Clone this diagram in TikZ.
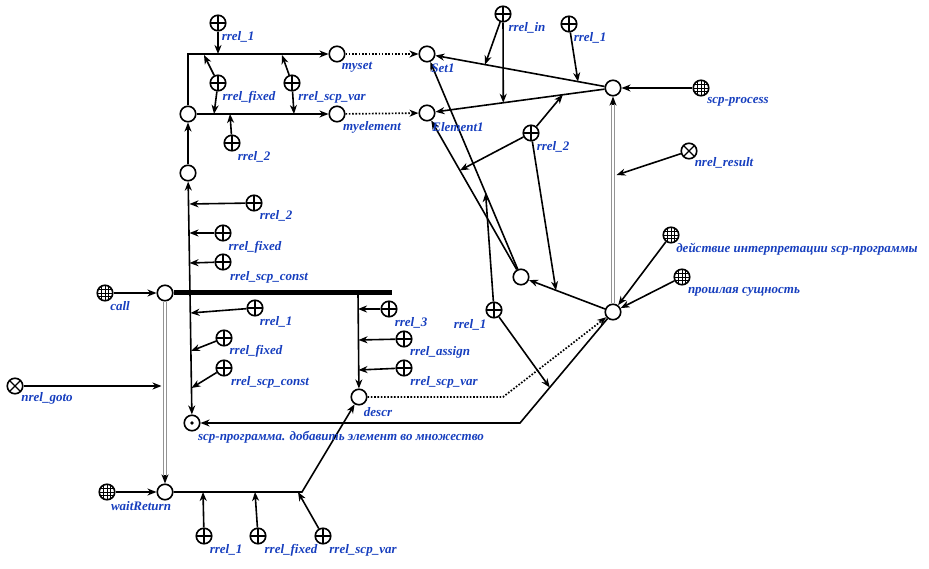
\documentclass[tikz,border=0pt]{standalone}
\usepackage{fontspec}
\setmainfont{Liberation Serif}
\usetikzlibrary{arrows.meta,calc}
\definecolor{lblblue}{RGB}{22,62,190}
\begin{document}
\begin{tikzpicture}[x=1pt,y=-1pt,
  arr/.style={line width=1.6pt,-{Stealth[length=9pt,width=7pt,inset=2.8pt]}},
  ln/.style={line width=1.6pt},
  dotarr/.style={line width=1.7pt,dash pattern=on 1.6pt off 1.7pt,-{Stealth[length=9pt,width=7pt,inset=2.8pt]}},
  barline/.style={line width=5pt},
  dbl/.style={draw=gray!85,double=white,double distance=2pt,line width=1.2pt},
  elem/.style={circle,draw,line width=1.6pt,minimum size=15.5pt,inner sep=0pt,fill=white},
  plusn/.style={elem,path picture={\draw[line width=1.3pt] (path picture bounding box.north) -- (path picture bounding box.south) (path picture bounding box.west) -- (path picture bounding box.east);}},
  crossn/.style={elem,path picture={\draw[line width=1.3pt] (path picture bounding box.north west) -- (path picture bounding box.south east) (path picture bounding box.south west) -- (path picture bounding box.north east);}},
  gridn/.style={elem,path picture={\foreach \d in {-3.6,0,3.6}{\draw[line width=0.7pt] ([xshift=\d pt]path picture bounding box.north) -- ([xshift=\d pt]path picture bounding box.south) ([yshift=\d pt]path picture bounding box.west) -- ([yshift=\d pt]path picture bounding box.east);}}},
  dotn/.style={elem},
  lbl/.style={text=lblblue,font=\fontsize{13}{15}\selectfont\bfseries\itshape,inner sep=0pt}
]
\useasboundingbox (0,0) rectangle (929,569);

% ---------- nodes ----------
\node[elem] (gate) at (188,114) {};
\node[elem] (c173) at (188,173) {};
\node[elem] (myset) at (337,54) {};
\node[elem] (myelement) at (337,114) {};
\node[elem] (set1) at (427,54) {};
\node[elem] (element1) at (427,113) {};
\node[elem] (scpProc) at (613,88) {};
\node[gridn] (scpProcClass) at (701,88) {};
\node[elem] (action) at (613,312) {};
\node[elem] (params) at (521,277) {};
\node[plusn] (rin) at (503,14) {};
\node[plusn] (rOneR) at (569,24) {};
\node[plusn] (rTwoR) at (531,133) {};
\node[plusn] (rOneM) at (494,310) {};
\node[crossn] (nres) at (689,151) {};
\node[gridn] (actCls) at (671,235) {};
\node[gridn] (pastCls) at (682,277) {};
\node[plusn] (pA1) at (218,23) {};
\node[plusn] (pAf) at (218,83) {};
\node[plusn] (pAv) at (292,83) {};
\node[plusn] (pA2) at (232,143) {};
\node[plusn] (pB2) at (254,203) {};
\node[plusn] (pBf) at (223,233) {};
\node[plusn] (pBc) at (223,262) {};
\node[elem] (call) at (165,293) {};
\node[gridn] (callCls) at (105,293) {};
\node[plusn] (pC1) at (255,308) {};
\node[plusn] (pCf) at (224,338) {};
\node[plusn] (pCc) at (224,368) {};
\node[dotn] (prog) at (192,423) {};
\fill (prog.center) circle (1.8pt);
\node[crossn] (ngoto) at (15,386) {};
\node[plusn] (pD3) at (389,309) {};
\node[plusn] (pDa) at (404,339) {};
\node[plusn] (pDv) at (404,368) {};
\node[elem] (descr) at (359,397) {};
\node[gridn] (wrCls) at (107,492) {};
\node[elem] (waitReturn) at (165,492) {};
\node[plusn] (pE1) at (204,536) {};
\node[plusn] (pEf) at (258,536) {};
\node[plusn] (pEv) at (323,536) {};

% ---------- helper coordinates ----------
\coordinate (barEnd) at (392,293);
\coordinate (barL) at (190,293);
\coordinate (barR) at (358,293);
\coordinate (corner) at (520,423);
\coordinate (wrEnd) at (302,492);
\coordinate (dotCorner) at (503,397);
\coordinate (gotoPt) at (161.5,386);
\coordinate (resPt) at (616.5,175);
\coordinate (wrTip) at ($(waitReturn)!17pt!(call)$);
\coordinate (spTip) at ($(scpProc)!17pt!(action)$);
\coordinate (tA1) at (218,54);
\coordinate (tAf1) at (204,55);
\coordinate (tAf2) at (214,114);
\coordinate (tAv1) at (282,55);
\coordinate (tAv2) at (294,114);
\coordinate (tA2) at (230,114);
\coordinate (tB2) at (189.5,204);
\coordinate (tBf) at (189.5,233);
\coordinate (tBc) at (189.5,263);
\coordinate (tC1) at (190.5,313);
\coordinate (tCf) at (191,351);
\coordinate (tCc) at (191.5,388);
\coordinate (tD3) at (358,309);
\coordinate (tDa) at (358.5,340);
\coordinate (tDv) at (358.5,370);
\coordinate (tE1) at (203,492);
\coordinate (tEf) at (255,492);
\coordinate (tEv) at (298,492);
\coordinate (tIn1) at ($(scpProc)!0.688!(set1)$);
\coordinate (tIn2) at ($(scpProc)!0.59!(element1)$);
\coordinate (tR1) at ($(scpProc)!0.188!(set1)$);
\coordinate (tR2a) at ($(scpProc)!0.27!(element1)$);
\coordinate (tR2b) at ($(params)!0.65!(element1)$);
\coordinate (tR2c) at ($(action)!0.62!(params)$);
\coordinate (tM1a) at ($(params)!0.377!(set1)$);
\coordinate (tM1b) at ($(action)!0.68!(corner)$);

% ---------- double (gray) arcs ----------
\draw[dbl,shorten >=7pt] (call) -- (waitReturn);
\draw[arr] (wrTip) -- (waitReturn);
\draw[dbl,shorten >=7pt] (action) -- (scpProc);
\draw[arr] (spTip) -- (scpProc);

% ---------- main arcs ----------
\draw[arr] (c173) -- (gate);
\draw[arr] (gate) |- (myset);
\draw[arr] (gate) -- (myelement);
\draw[dotarr] (myset) -- (set1);
\draw[dotarr] (myelement) -- (element1);
\draw[arr] (scpProc) -- (set1);
\draw[arr] (scpProc) -- (element1);
\draw[arr] (scpProcClass) -- (scpProc);
\draw[arr] (params) -- (set1);
\draw[arr] (params) -- (element1);
\draw[arr] (action) -- (params);
\draw[arr] (action) -- (corner) -- (prog);
\draw[arr] (nres) -- (resPt);
\draw[arr] (actCls) -- (action);
\draw[arr] (pastCls) -- (action);
\draw[dotarr] (descr) -- (dotCorner) -- (action);
\draw[arr] (waitReturn) -- (wrEnd) -- (descr);
\draw[arr] (wrCls) -- (waitReturn);
\draw[arr] (callCls) -- (call);
\draw[arr] (ngoto) -- (gotoPt);
\draw[barline] (call) -- (barEnd);
\draw[arr] (barL) -- (c173);
\draw[arr] (barL) -- (prog);
\draw[arr] (barR) -- (descr);

% ---------- role arcs ----------
\draw[arr] (pA1) -- (tA1);
\draw[arr] (pAf) -- (tAf1);
\draw[arr] (pAf) -- (tAf2);
\draw[arr] (pAv) -- (tAv1);
\draw[arr] (pAv) -- (tAv2);
\draw[arr] (pA2) -- (tA2);
\draw[arr] (pB2) -- (tB2);
\draw[arr] (pBf) -- (tBf);
\draw[arr] (pBc) -- (tBc);
\draw[arr] (pC1) -- (tC1);
\draw[arr] (pCf) -- (tCf);
\draw[arr] (pCc) -- (tCc);
\draw[arr] (pD3) -- (tD3);
\draw[arr] (pDa) -- (tDa);
\draw[arr] (pDv) -- (tDv);
\draw[arr] (pE1) -- (tE1);
\draw[arr] (pEf) -- (tEf);
\draw[arr] (pEv) -- (tEv);
\draw[arr] (rin) -- (tIn1);
\draw[arr] (rin) -- (tIn2);
\draw[arr] (rOneR) -- (tR1);
\draw[arr] (rTwoR) -- (tR2a);
\draw[arr] (rTwoR) -- (tR2b);
\draw[arr] (rTwoR) -- (tR2c);
\draw[arr] (rOneM) -- (tM1a);
\draw[arr] (rOneM) -- (tM1b);

% ---------- labels ----------
\node[lbl] (l1) at (238,37) {rrel\_1};
\node[lbl] (l2) at (357,67) {myset};
\node[lbl] (l3) at (249,97) {rrel\_fixed};
\node[lbl] (l4) at (332,97) {rrel\_scp\_var};
\node[lbl] (l5) at (372,127) {myelement};
\node[lbl] (l6) at (254,157) {rrel\_2};
\node[lbl] (l7) at (443,68) {Set1};
\node[lbl] (l8) at (458,127) {Element1};
\node[lbl] (l9) at (527,28) {rrel\_in};
\node[lbl] (l10) at (590,38) {rrel\_1};
\node[lbl] (l11) at (738,102) {scp-process};
\node[lbl] (l12) at (553,147) {rrel\_2};
\node[lbl] (l13) at (724,163) {nrel\_result};
\node[lbl] (l14) at (797,249) {действие интерпретации scp-программы};
\node[lbl] (l15) at (744,292) {прошлая сущность};
\node[lbl] (l16) at (276,216) {rrel\_2};
\node[lbl] (l17) at (255,247) {rrel\_fixed};
\node[lbl] (l18) at (269,277) {rrel\_scp\_const};
\node[lbl] (l19) at (120,306) {call};
\node[lbl] (l20) at (276,322) {rrel\_1};
\node[lbl] (l21) at (256,351) {rrel\_fixed};
\node[lbl] (l22) at (270,382) {rrel\_scp\_const};
\node[lbl] (l23) at (47,398) {nrel\_goto};
\node[lbl] (l24) at (341,437) {scp-программа. добавить элемент во множество};
\node[lbl] (l25) at (411,323) {rrel\_3};
\node[lbl] (l26) at (440,352) {rrel\_assign};
\node[lbl] (l27) at (444,382) {rrel\_scp\_var};
\node[lbl] (l28) at (378,412) {descr};
\node[lbl] (l29) at (470,325) {rrel\_1};
\node[lbl] (l30) at (141,506) {waitReturn};
\node[lbl] (l31) at (226,550) {rrel\_1};
\node[lbl] (l32) at (291,550) {rrel\_fixed};
\node[lbl] (l33) at (363,550) {rrel\_scp\_var};
\end{tikzpicture}
\end{document}
